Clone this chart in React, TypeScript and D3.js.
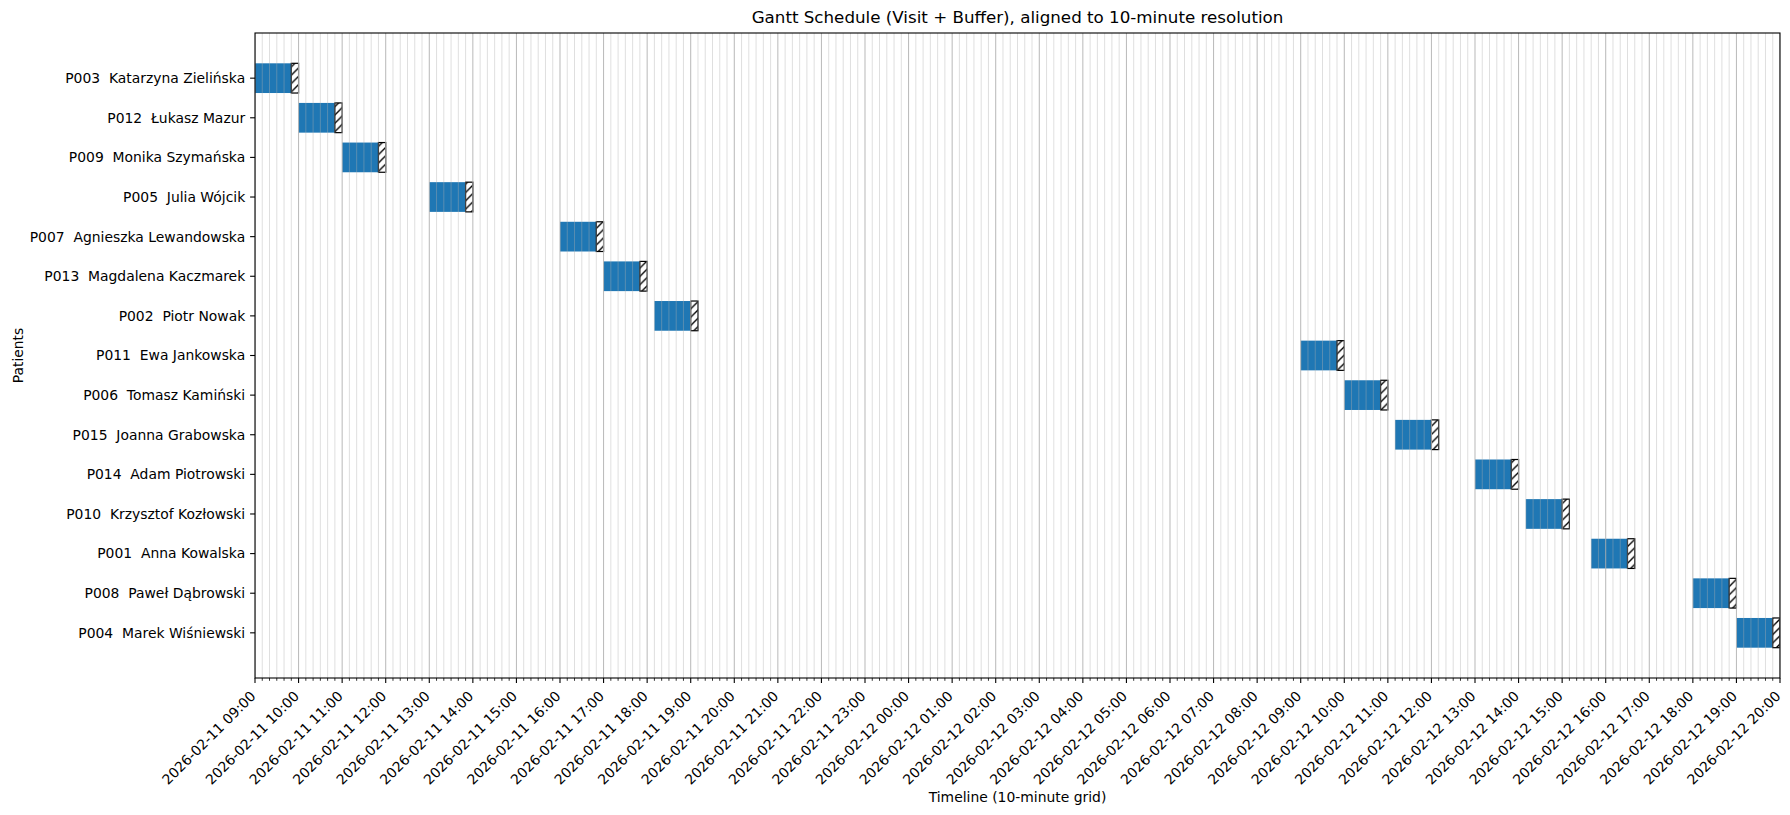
import * as d3 from "d3";

const patientIds = [
  "P003", "P012", "P009", "P005", "P007", "P013", "P002", "P011",
  "P006", "P015", "P014", "P010", "P001", "P008", "P004",
];

const patientNames = [
  "Katarzyna Zielińska",
  "Łukasz Mazur",
  "Monika Szymańska",
  "Julia Wójcik",
  "Agnieszka Lewandowska",
  "Magdalena Kaczmarek",
  "Piotr Nowak",
  "Ewa Jankowska",
  "Tomasz Kamiński",
  "Joanna Grabowska",
  "Adam Piotrowski",
  "Krzysztof Kozłowski",
  "Anna Kowalska",
  "Paweł Dąbrowski",
  "Marek Wiśniewski",
];

const visitStarts = [
  "2026-02-11 09:00", "2026-02-11 10:00", "2026-02-11 11:00", "2026-02-11 13:00",
  "2026-02-11 16:00", "2026-02-11 17:00", "2026-02-11 18:10", "2026-02-12 09:00",
  "2026-02-12 10:00", "2026-02-12 11:10", "2026-02-12 13:00", "2026-02-12 14:10",
  "2026-02-12 15:40", "2026-02-12 18:00", "2026-02-12 19:00",
];

const visitMinutes = [50, 50, 50, 50, 50, 50, 50, 50, 50, 50, 50, 50, 50, 50, 50];
const bufferMinutes = [10, 10, 10, 10, 10, 10, 10, 10, 10, 10, 10, 10, 10, 10, 10];

const timelineStart = "2026-02-11 09:00";
const timelineEnd = "2026-02-12 20:00";

const parseTime = d3.timeParse("%Y-%m-%d %H:%M");
const formatTick = d3.timeFormat("%Y-%m-%d %H:%M");

export default function App() {
  const width = 1790;
  const height = 815;
  const plot = { left: 255, right: 1780, top: 33, bottom: 678 };
  const font = "'DejaVu Sans', sans-serif";

  const start = parseTime(timelineStart) as Date;
  const end = parseTime(timelineEnd) as Date;

  const x = d3.scaleTime().domain([start, end]).range([plot.left, plot.right]);
  const y = d3
    .scaleLinear()
    .domain([-1.14, patientIds.length - 1 + 1.14])
    .range([plot.top, plot.bottom]);

  const stopTime = d3.timeMinute.offset(end, 1);
  const hourTicks = d3.timeHour.range(start, stopTime);
  const minorTicks = (d3.timeMinute.every(10) as d3.CountableTimeInterval)
    .range(start, stopTime)
    .filter((t) => t.getMinutes() !== 0);

  const barH = y(0.375) - y(-0.375);

  const rows = patientIds.map((id, i) => {
    const s = parseTime(visitStarts[i]) as Date;
    const ve = d3.timeMinute.offset(s, visitMinutes[i]);
    const be = d3.timeMinute.offset(ve, bufferMinutes[i]);
    return { label: `${id}  ${patientNames[i]}`, s, ve, be, i };
  });

  const cx = (plot.left + plot.right) / 2;
  const cy = (plot.top + plot.bottom) / 2;

  return (
    <svg
      width={width}
      height={height}
      style={{ position: "absolute", left: 0, top: 0, background: "#fff" }}
      fontFamily={font}
    >
      <defs>
        <pattern
          id="hatch"
          patternUnits="userSpaceOnUse"
          width={8.33}
          height={8.33}
        >
          <rect width={8.33} height={8.33} fill="#fff" />
          <path
            d="M-2,10.33 L10.33,-2 M-2,2 L2,-2 M6.33,10.33 L10.33,6.33"
            stroke="#000"
            strokeWidth={1.35}
          />
        </pattern>
        <clipPath id="plotClip">
          <rect
            x={plot.left}
            y={plot.top}
            width={plot.right - plot.left}
            height={plot.bottom - plot.top}
          />
        </clipPath>
      </defs>

      <rect x={0} y={0} width={width} height={height} fill="#fff" />

      <g clipPath="url(#plotClip)">
        {rows.map((r) => (
          <g key={`bar-${r.i}`}>
            <rect
              x={x(r.s)}
              y={y(r.i) - barH / 2}
              width={x(r.ve) - x(r.s)}
              height={barH}
              fill="#1f77b4"
            />
            <rect
              x={x(r.ve)}
              y={y(r.i) - barH / 2}
              width={x(r.be) - x(r.ve)}
              height={barH}
              fill="url(#hatch)"
              stroke="#000"
              strokeWidth={1.2}
            />
          </g>
        ))}

        {minorTicks.map((t) => (
          <line
            key={`mg-${+t}`}
            x1={x(t)}
            x2={x(t)}
            y1={plot.top}
            y2={plot.bottom}
            stroke="#b0b0b0"
            strokeOpacity={0.5}
            strokeWidth={0.8}
          />
        ))}
        {hourTicks.map((t) => (
          <line
            key={`hg-${+t}`}
            x1={x(t)}
            x2={x(t)}
            y1={plot.top}
            y2={plot.bottom}
            stroke="#b0b0b0"
            strokeOpacity={0.9}
            strokeWidth={1}
          />
        ))}
      </g>

      {/* frame */}
      <rect
        x={plot.left}
        y={plot.top}
        width={plot.right - plot.left}
        height={plot.bottom - plot.top}
        fill="none"
        stroke="#000"
        strokeWidth={1.1}
      />

      {/* x ticks */}
      {minorTicks.map((t) => (
        <line
          key={`mt-${+t}`}
          x1={x(t)}
          x2={x(t)}
          y1={plot.bottom}
          y2={plot.bottom + 2.8}
          stroke="#000"
          strokeWidth={0.8}
        />
      ))}
      {hourTicks.map((t) => (
        <g key={`ht-${+t}`}>
          <line
            x1={x(t)}
            x2={x(t)}
            y1={plot.bottom}
            y2={plot.bottom + 4.9}
            stroke="#000"
            strokeWidth={1.1}
          />
          <text
            transform={`translate(${x(t) + 1.5},${plot.bottom + 19}) rotate(-45)`}
            textAnchor="end"
            fontSize={13.9}
            fill="#000"
          >
            {formatTick(t)}
          </text>
        </g>
      ))}

      {/* y ticks */}
      {rows.map((r) => (
        <g key={`yt-${r.i}`}>
          <line
            x1={plot.left - 4.9}
            x2={plot.left}
            y1={y(r.i)}
            y2={y(r.i)}
            stroke="#000"
            strokeWidth={1.1}
          />
          <text
            x={plot.left - 9.8}
            y={y(r.i)}
            dy="0.35em"
            textAnchor="end"
            fontSize={13.9}
            fill="#000"
            style={{ whiteSpace: "pre" }}
          >
            {r.label}
          </text>
        </g>
      ))}

      <text x={cx} y={23} textAnchor="middle" fontSize={16.7} fill="#000">
        Gantt Schedule (Visit + Buffer), aligned to 10-minute resolution
      </text>
      <text x={cx} y={802} textAnchor="middle" fontSize={13.9} fill="#000">
        Timeline (10-minute grid)
      </text>
      <text
        transform={`translate(22.5,${cy}) rotate(-90)`}
        textAnchor="middle"
        fontSize={13.9}
        fill="#000"
      >
        Patients
      </text>
    </svg>
  );
}
